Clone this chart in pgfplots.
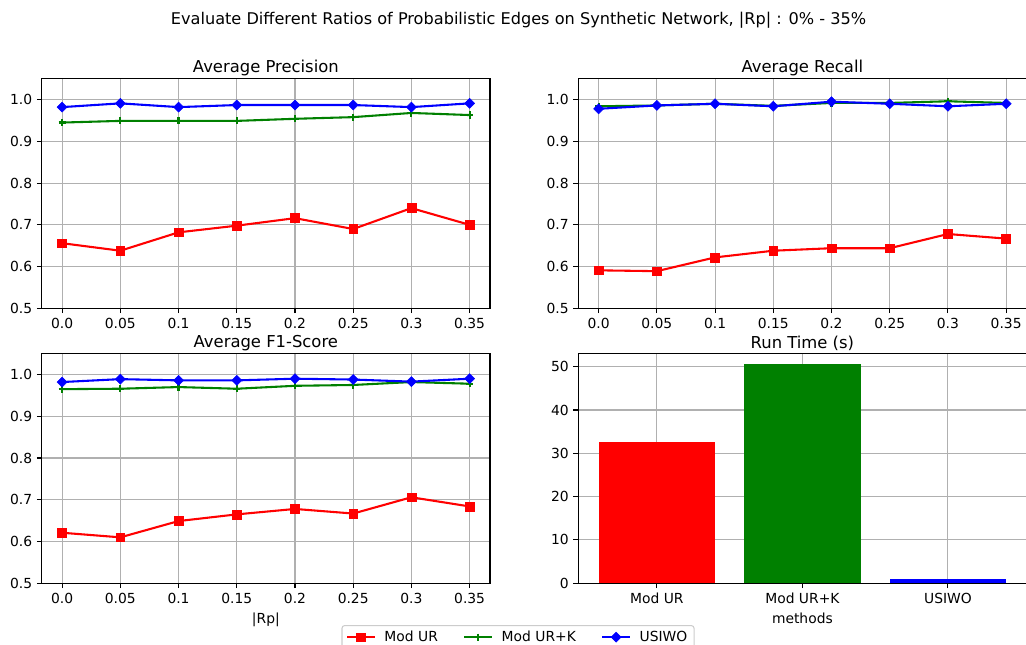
\documentclass[border=0pt]{standalone}
\usepackage{pgfplots}
\pgfplotsset{compat=1.18}
\usepackage{fontspec}
\setmainfont{DejaVu Sans}
\definecolor{mred}{HTML}{FF0000}
\definecolor{mgreen}{HTML}{008000}
\definecolor{mblue}{HTML}{0000FF}
\definecolor{gridc}{HTML}{B0B0B0}
\pgfplotsset{
  mpl/.style={
    scale only axis, width=336.2pt, height=172.2pt,
    axis line style={line width=0.8pt, black},
    grid=major, grid style={gridc, line width=0.8pt},
    tick align=outside, major tick length=3.65pt,
    tick style={line width=0.8pt, black},
    xtick pos=left, ytick pos=left,
    /pgf/number format/assume math mode=true,
    title style={yshift=-7.4pt, font=\fontsize{12.3pt}{14.8pt}\selectfont},
    clip=false,
  },
  lineax/.style={mpl,
    xmin=-0.0175, xmax=0.3675, ymin=0.5, ymax=1.05,
    xtick={0,0.05,0.1,0.15,0.2,0.25,0.3,0.35},
    xticklabels={0.0,0.05,0.1,0.15,0.2,0.25,0.3,0.35},
    ytick={0.5,0.6,0.7,0.8,0.9,1.0},
    yticklabels={0.5,0.6,0.7,0.8,0.9,1.0},
  },
  redst/.style={color=mred, line width=1.56pt, mark=square*, mark size=3.3pt, mark options={solid, line width=0.4pt}},
  greenst/.style={color=mgreen, line width=1.56pt, mark=+, mark size=2.7pt, mark options={solid, line width=1.6pt}},
  bluest/.style={color=mblue, line width=1.56pt, mark=square*, mark size=2.65pt, mark options={solid, rotate=45, line width=0.4pt}},
}
\begin{document}
\begin{tikzpicture}[font=\fontsize{10.4pt}{12.5pt}\selectfont]
\path[use as bounding box] (0,0) rectangle (769.5pt,483.75pt);
\node[font=\fontsize{12.1pt}{14.5pt}\selectfont] at (388.9pt,468.75pt) {Evaluate Different Ratios of Probabilistic Edges on Synthetic Network, |Rp| : 0\% - 35\%};

% Top-left: Precision
\begin{axis}[lineax, at={(31.3pt,252.5pt)}, anchor=south west, title={Average Precision}]
\addplot[redst] coordinates {(0,0.656)(0.05,0.638)(0.1,0.682)(0.15,0.698)(0.2,0.716)(0.25,0.690)(0.3,0.740)(0.35,0.700)};
\addplot[greenst] coordinates {(0,0.945)(0.05,0.949)(0.1,0.949)(0.15,0.949)(0.2,0.954)(0.25,0.958)(0.3,0.968)(0.35,0.963)};
\addplot[bluest] coordinates {(0,0.982)(0.05,0.991)(0.1,0.982)(0.15,0.987)(0.2,0.987)(0.25,0.987)(0.3,0.982)(0.35,0.991)};
\end{axis}

% Top-right: Recall
\begin{axis}[lineax, at={(433.7pt,252.5pt)}, anchor=south west, title={Average Recall}]
\addplot[redst] coordinates {(0,0.591)(0.05,0.589)(0.1,0.622)(0.15,0.638)(0.2,0.644)(0.25,0.644)(0.3,0.678)(0.35,0.667)};
\addplot[greenst] coordinates {(0,0.984)(0.05,0.986)(0.1,0.990)(0.15,0.985)(0.2,0.992)(0.25,0.992)(0.3,0.996)(0.35,0.992)};
\addplot[bluest] coordinates {(0,0.978)(0.05,0.986)(0.1,0.990)(0.15,0.984)(0.2,0.995)(0.25,0.990)(0.3,0.984)(0.35,0.990)};
\end{axis}

% Bottom-left: F1
\begin{axis}[lineax, at={(31.3pt,46.3pt)}, anchor=south west, title={Average F1-Score}, xlabel={|Rp|},
  legend columns=3,
  legend image code/.code={\draw[mark repeat=2,mark phase=2,#1] plot coordinates {(0pt,0pt)(10.4pt,0pt)(20.8pt,0pt)};},
  legend style={at={(1.0625,-0.182)}, anchor=north, draw=black!20, rounded corners=2pt, line width=0.8pt,
    inner xsep=3pt, inner ysep=2pt,
    /tikz/every odd column/.append style={column sep=4.5pt},
    /tikz/every even column/.append style={column sep=17pt}},
  legend cell align=left]
\addplot[redst] coordinates {(0,0.621)(0.05,0.610)(0.1,0.649)(0.15,0.665)(0.2,0.678)(0.25,0.667)(0.3,0.706)(0.35,0.684)};
\addlegendentry{Mod UR}
\addplot[greenst] coordinates {(0,0.965)(0.05,0.966)(0.1,0.970)(0.15,0.966)(0.2,0.973)(0.25,0.975)(0.3,0.982)(0.35,0.978)};
\addlegendentry{Mod UR+K}
\addplot[bluest] coordinates {(0,0.982)(0.05,0.989)(0.1,0.986)(0.15,0.986)(0.2,0.990)(0.25,0.988)(0.3,0.983)(0.35,0.990)};
\addlegendentry{USIWO}
\end{axis}

% Bottom-right: Run time
\begin{axis}[mpl, at={(433.7pt,46.3pt)}, anchor=south west, title={Run Time (s)}, xlabel={methods},
  xmin=-0.54, xmax=2.54, ymin=0, ymax=53.0,
  xtick={0,1,2}, xticklabels={Mod UR,Mod UR+K,USIWO},
  ytick={0,10,20,30,40,50}, yticklabels={0,10,20,30,40,50},
  ybar, bar width=0.8, bar shift=0pt]
\addplot[fill=mred, draw=none] coordinates {(0,32.6)};
\addplot[fill=mgreen, draw=none] coordinates {(1,50.5)};
\addplot[fill=mblue, draw=none] coordinates {(2,0.9)};
\end{axis}
\end{tikzpicture}
\end{document}
